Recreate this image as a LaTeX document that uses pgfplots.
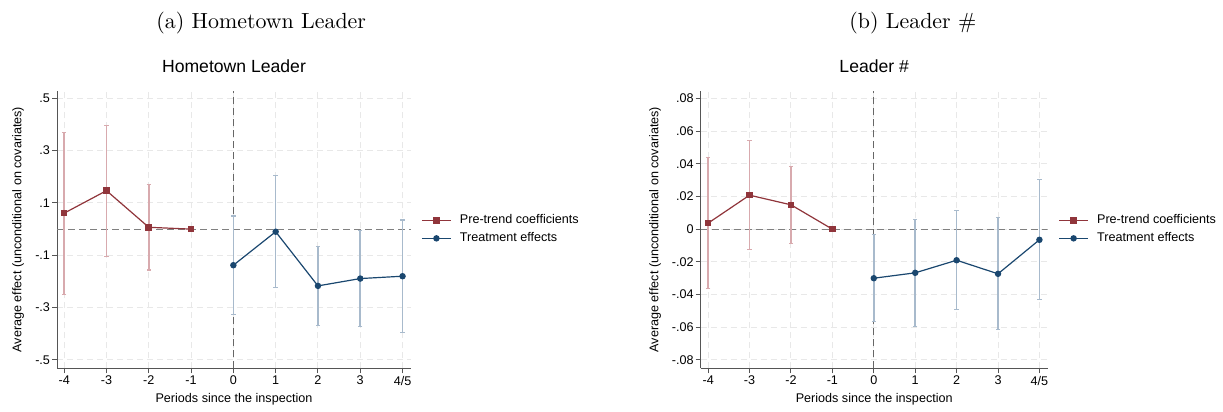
\documentclass[border=0pt]{standalone}
\usepackage{fontspec}
\usepackage{pgfplots}
\usepackage{pgfplotstable}
\pgfplotsset{compat=1.18}
\newfontfamily\arial{Liberation Sans}
\definecolor{sred}{RGB}{144,53,59}
\definecolor{sblue}{RGB}{26,71,111}
\definecolor{sredci}{RGB}{216,170,174}
\definecolor{sblueci}{RGB}{168,186,204}
\definecolor{gridc}{RGB}{232,232,232}
\definecolor{axc}{RGB}{85,85,85}

% Panel (a): Hometown Leader
\pgfplotstableread{
x y lo hi
0 0.061 -0.249 0.369
1 0.147 -0.104 0.397
2 0.007 -0.156 0.171
3 0.000 0.000 0.000
}\preA
\pgfplotstableread{
x y lo hi
4 -0.138 -0.325 0.050
5 -0.010 -0.224 0.204
6 -0.217 -0.369 -0.066
7 -0.189 -0.371 -0.006
8 -0.180 -0.394 0.035
}\postA
% Panel (b): Leader #
\pgfplotstableread{
x y lo hi
0 0.0037 -0.0365 0.0438
1 0.0208 -0.0122 0.0540
2 0.0149 -0.0086 0.0385
3 0.0000 0.0000 0.0000
}\preB
\pgfplotstableread{
x y lo hi
4 -0.0300 -0.0565 -0.0035
5 -0.0267 -0.0597 0.0061
6 -0.0190 -0.0493 0.0114
7 -0.0273 -0.0616 0.0071
8 -0.0065 -0.0432 0.0306
}\postB

\pgfplotsset{
  stata/.style={
    scale only axis,
    axis x line*=bottom, axis y line*=left,
    axis line style={color=axc, line width=0.5pt, -},
    xmin=-0.17, xmax=8.2,
    xtick={0,...,8},
    xticklabels={-4,-3,-2,-1,0,1,2,3,4/5},
    scaled y ticks=false,
    tick align=outside,
    major tick length=2.5pt,
    tick style={color=axc, line width=0.5pt},
    grid=major,
    major grid style={color=gridc, line width=0.5pt, dash pattern=on 3pt off 2pt},
    ticklabel style={font=\arial\fontsize{6.3}{7.5}\selectfont},
    xticklabel style={anchor=north, inner sep=0pt, yshift=-1.2pt},
    yticklabel style={anchor=east, inner sep=0pt, xshift=-0.8pt},
    title style={font=\arial\fontsize{8.8}{10}\selectfont, at={(0.5,1)}, anchor=base, yshift=2.9pt, inner sep=0pt},
    xlabel={Periods since the inspection},
    ylabel={Average effect (unconditional on covariates)},
    every axis x label/.style={at={(axis description cs:0.5,0)}, anchor=base, yshift=-17.2pt, inner sep=0pt, font=\arial\fontsize{6.3}{7.5}\selectfont},
    legend style={draw=none, fill=none, at={(axis description cs:1.028,0.5)}, anchor=west,
      inner sep=0pt, font=\arial\fontsize{6.3}{7.5}\selectfont, row sep=2.85pt, column sep=4.2pt,
      nodes={inner sep=0pt, text height=4.6pt, text depth=1.4pt}},
    legend cell align=left,
    legend image code/.code={
      \draw[mark repeat=2, mark phase=2, ##1] plot coordinates {(0pt,0pt) (7.25pt,0pt) (14.5pt,0pt)};
    },
  },
  redci/.style={forget plot, draw=none, error bars/.cd, y dir=both, y explicit,
    error bar style={draw=sredci, line width=0.8pt},
    error mark=-,
    error mark options={rotate=90, draw=sredci, mark size=1.1pt, line width=0.6pt}},
  blueci/.style={forget plot, draw=none, error bars/.cd, y dir=both, y explicit,
    error bar style={draw=sblueci, line width=0.8pt},
    error mark=-,
    error mark options={rotate=90, draw=sblueci, mark size=1.1pt, line width=0.6pt}},
  redline/.style={color=sred, line width=0.6pt, mark=square*, mark size=1.35pt, mark options={solid}},
  blueline/.style={color=sblue, line width=0.6pt, mark=*, mark size=1.3pt, mark options={solid}},
  zeroline/.style={forget plot, color=black!50, line width=0.6pt, dash pattern=on 3.5pt off 2pt},
  vline/.style={forget plot, color=black!60, line width=0.5pt, dash pattern=on 3.5pt off 2pt},
}

\begin{document}
\begin{tikzpicture}
\path[use as bounding box] (0,0) rectangle (611.5pt,-206pt);
\node[anchor=base west, inner sep=0pt, font=\fontsize{10.95}{13}\selectfont] at (78pt,-14pt) {(a) Hometown Leader};
\node[anchor=base west, inner sep=0pt, font=\fontsize{10.95}{13}\selectfont] at (424.5pt,-14pt) {(b) Leader \#};

\begin{axis}[stata,
  at={(28.5pt,-184.15pt)}, anchor=south west,
  width=177pt, height=138.8pt,
  ymin=-0.532, ymax=0.529,
  ytick={-0.5,-0.3,-0.1,0.1,0.3,0.5},
  yticklabels={-.5,-.3,-.1,.1,.3,.5},
  every axis y label/.style={at={(axis description cs:-0.110,0.5)}, rotate=90, anchor=center, inner sep=0pt, font=\arial\fontsize{6.3}{7.5}\selectfont},
  title={Hometown Leader},
]
\addplot[vline] coordinates {(4,-0.532) (4,0.529)};
\addplot[zeroline] coordinates {(-0.17,0) (8.2,0)};
\addplot[redci] table[x=x, y=y, y error plus expr=\thisrow{hi}-\thisrow{y}, y error minus expr=\thisrow{y}-\thisrow{lo}, skip coords between index={3}{4}] {\preA};
\addplot[blueci] table[x=x, y=y, y error plus expr=\thisrow{hi}-\thisrow{y}, y error minus expr=\thisrow{y}-\thisrow{lo}] {\postA};
\addplot[redline] table[x=x, y=y] {\preA};
\addplot[blueline] table[x=x, y=y] {\postA};
\legend{Pre-trend coefficients, Treatment effects}
\end{axis}

\begin{axis}[stata,
  at={(350.35pt,-184.15pt)}, anchor=south west,
  width=173.5pt, height=138.8pt,
  xmin=-0.18,
  ymin=-0.0851, ymax=0.0847,
  ytick={-0.08,-0.06,-0.04,-0.02,0,0.02,0.04,0.06,0.08},
  yticklabels={-.08,-.06,-.04,-.02,0,.02,.04,.06,.08},
  every axis y label/.style={at={(axis description cs:-0.1317,0.5)}, rotate=90, anchor=center, inner sep=0pt, font=\arial\fontsize{6.3}{7.5}\selectfont},
  title={Leader \#},
  legend style={at={(axis description cs:1.03,0.5)}},
]
\addplot[vline] coordinates {(4,-0.0851) (4,0.0847)};
\addplot[zeroline] coordinates {(-0.18,0) (8.2,0)};
\addplot[redci] table[x=x, y=y, y error plus expr=\thisrow{hi}-\thisrow{y}, y error minus expr=\thisrow{y}-\thisrow{lo}, skip coords between index={3}{4}] {\preB};
\addplot[blueci] table[x=x, y=y, y error plus expr=\thisrow{hi}-\thisrow{y}, y error minus expr=\thisrow{y}-\thisrow{lo}] {\postB};
\addplot[redline] table[x=x, y=y] {\preB};
\addplot[blueline] table[x=x, y=y] {\postB};
\legend{Pre-trend coefficients, Treatment effects}
\end{axis}
\end{tikzpicture}
\end{document}
